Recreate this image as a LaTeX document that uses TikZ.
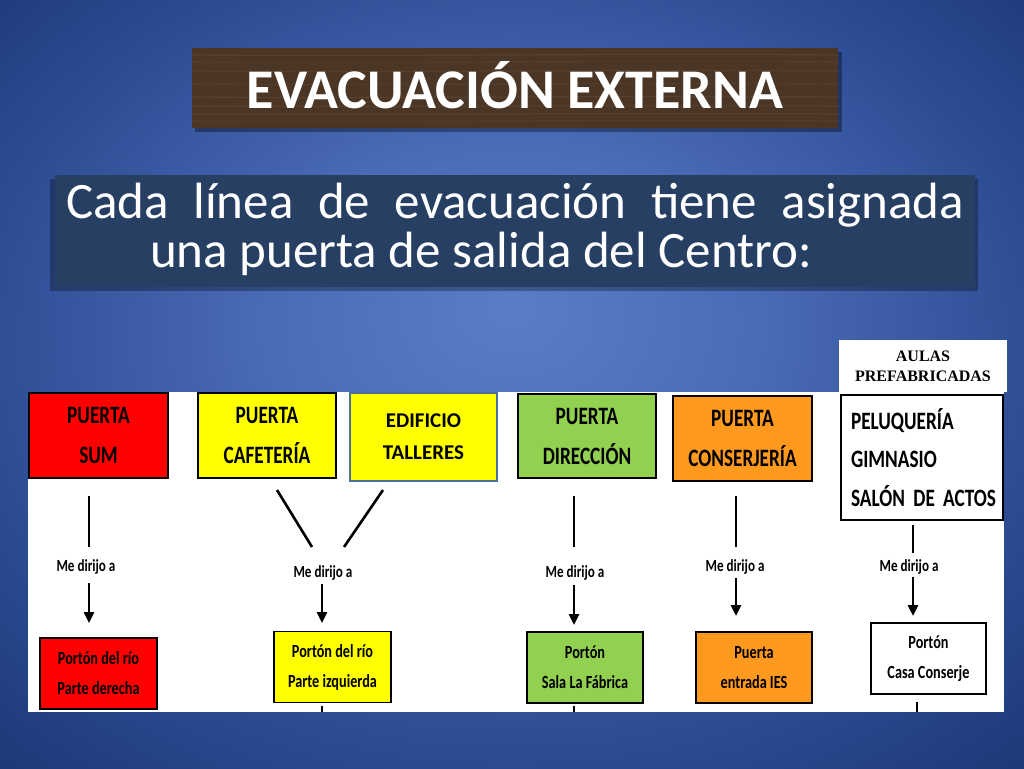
\documentclass[tikz,border=0pt]{standalone}
\usepackage{fontspec}
\setmainfont{Carlito}
\newfontfamily\cond[FakeStretch=0.77]{Carlito}
\newfontfamily\timesfam{Liberation Serif}
\usetikzlibrary{arrows.meta}
\definecolor{bgin}{HTML}{5B7DC8}
\definecolor{bgmid}{HTML}{4A6BB5}
\definecolor{bgmid2}{HTML}{2D4C94}
\definecolor{bgmid3}{HTML}{17326F}
\definecolor{bgout}{HTML}{0F2868}
\definecolor{wood}{HTML}{4B3626}
\definecolor{woodlt}{HTML}{6A5140}
\definecolor{subbox}{HTML}{263F63}
\definecolor{cred}{HTML}{FF0000}
\definecolor{cyel}{HTML}{FFFF00}
\definecolor{cgreen}{HTML}{92D050}
\definecolor{corange}{HTML}{FF9A1F}
\definecolor{steel}{HTML}{4A6F9E}
\pgfdeclareradialshading{bgshade}{\pgfpoint{0bp}{5bp}}{color(0bp)=(bgin); color(12bp)=(bgmid); color(26bp)=(bgmid2); color(40bp)=(bgmid3); color(50bp)=(bgout)}
\tikzset{
  srcbox/.style={draw=black, line width=1.4pt, minimum width=#1, inner sep=0pt, align=center,
    font=\cond\bfseries\fontsize{25}{40}\selectfont},
  dstbox/.style={draw=black, line width=1.4pt, minimum width=#1, minimum height=71pt, inner sep=0pt, align=center,
    font=\cond\bfseries\fontsize{18.5}{30}\selectfont},
  lbl/.style={inner sep=0pt, font=\cond\bfseries\fontsize{17}{19}\selectfont},
  conn/.style={line width=2.6pt, black},
  arr/.style={line width=2.6pt, black, -{Triangle[width=10pt,length=11pt]}},
}
\begin{document}
\begin{tikzpicture}[x=1pt,y=-1pt]
\useasboundingbox (0,0) rectangle (1024,768);
% background
\shade[shading=bgshade] (0,0) rectangle (1024,768);
% title plate
\fill[black, opacity=0.35] (195,52) rectangle (842,132);
\fill[wood] (192,48) rectangle (838,128);
\foreach \yy/\op in {55/0.4,62/0.25,71/0.3,84/0.25,97/0.4,106/0.3,114/0.35,121/0.25}{
  \draw[woodlt, line width=1.2pt, opacity=\op] (192,\yy) .. controls (400,\yy+2) and (600,\yy-2) .. (838,\yy);
}
\node[text=white, font=\bfseries\fontsize{56}{60}\selectfont, inner sep=0pt] (title) at (515,85) {EVACUACIÓN EXTERNA};
% subtitle box
\fill[black, opacity=0.3] (50,179) rectangle (978,291);
\fill[subbox] (55,175) rectangle (975,287);
\node[anchor=base west, inner sep=0pt, text=white, font=\fontsize{51}{55}\selectfont] (sub1) at (66,218)
  {\makebox[898pt][s]{Cada\hfill línea\hfill de\hfill evacuación\hfill tiene\hfill asignada}};
\node[anchor=base west, inner sep=0pt, text=white, font=\fontsize{51}{55}\selectfont] (sub2) at (150,267)
  {una puerta de salida del Centro:};
% white panel
\fill[white] (28,392) rectangle (1004,712);
\node[fill=white, minimum width=168pt, minimum height=52pt, inner sep=0pt, align=center,
  font=\timesfam\bfseries\fontsize{16}{20}\selectfont] (aulas) at (923,366) {AULAS\\PREFABRICADAS};
% source boxes
\node[srcbox=139pt, minimum height=85pt, fill=cred] (sum) at (98.5,435.5) {PUERTA\\SUM};
\node[srcbox=138pt, minimum height=85pt, fill=cyel] (caf) at (267,435.5) {PUERTA\\CAFETERÍA};
\node[draw=steel, line width=2.2pt, fill=cyel, minimum width=147pt, minimum height=88pt, inner sep=0pt, align=center,
  font=\bfseries\fontsize{21}{32}\selectfont] (tal) at (423.5,437) {EDIFICIO\\TALLERES};
\node[srcbox=138pt, minimum height=84pt, fill=cgreen] (dir) at (587,436) {PUERTA\\DIRECCIÓN};
\node[srcbox=139pt, minimum height=85pt, fill=corange] (con) at (742.5,438.5) {PUERTA\\CONSERJERÍA};
\node[draw=black, line width=1.4pt, fill=white, minimum width=162pt, minimum height=125pt, inner xsep=10pt, inner ysep=0pt,
  text width=142pt, align=left, font=\cond\bfseries\fontsize{25}{38.5}\selectfont] (pel) at (922,457.5)
  {\mbox{PELUQUERÍA}\\\mbox{GIMNASIO}\\\mbox{SALÓN DE ACTOS}};
% labels
\node[lbl] (m1) at (86,567) {Me dirijo a};
\node[lbl] (m2) at (323,573) {Me dirijo a};
\node[lbl] (m3) at (575,573) {Me dirijo a};
\node[lbl] (m4) at (735,567) {Me dirijo a};
\node[lbl] (m5) at (909,567) {Me dirijo a};
% destination boxes
\node[dstbox=117pt, fill=cred] (d1) at (98.5,673.5) {Portón del río\\Parte derecha};
\node[dstbox=117pt, fill=cyel] (d2) at (332.5,667) {Portón del río\\Parte izquierda};
\node[dstbox=116pt, fill=cgreen] (d3) at (585,667.5) {Portón\\Sala La Fábrica};
\node[dstbox=116pt, fill=corange] (d4) at (754,667.5) {Puerta\\entrada IES};
\node[dstbox=115pt, fill=white] (d5) at (928.5,658.5) {Portón\\Casa Conserje};
% connector end points
\coordinate (l1a) at (89,496); \coordinate (l1b) at (89,547);
\coordinate (a1a) at (89,583); \coordinate (a1b) at (89,623);
\coordinate (l2a) at (277,490); \coordinate (l2b) at (312,547);
\coordinate (l2c) at (383,490); \coordinate (l2d) at (344,547);
\coordinate (a2a) at (322,584); \coordinate (a2b) at (322,623);
\coordinate (l3a) at (574,496); \coordinate (l3b) at (574,547);
\coordinate (a3a) at (574,585); \coordinate (a3b) at (574,625);
\coordinate (l4a) at (736,496); \coordinate (l4b) at (736,547);
\coordinate (a4a) at (736,578); \coordinate (a4b) at (736,616);
\coordinate (l5a) at (913,525); \coordinate (l5b) at (913,553);
\coordinate (a5a) at (913,577); \coordinate (a5b) at (913,616);
\coordinate (s2a) at (322,706); \coordinate (s2b) at (322,712);
\coordinate (s3a) at (574,706); \coordinate (s3b) at (574,712);
\coordinate (s5a) at (917,702); \coordinate (s5b) at (917,712);
% connectors
\draw[conn] (l1a) -- (l1b);
\draw[arr] (a1a) -- (a1b);
\draw[conn] (l2a) -- (l2b);
\draw[conn] (l2c) -- (l2d);
\draw[arr] (a2a) -- (a2b);
\draw[conn] (l3a) -- (l3b);
\draw[arr] (a3a) -- (a3b);
\draw[conn] (l4a) -- (l4b);
\draw[arr] (a4a) -- (a4b);
\draw[conn] (l5a) -- (l5b);
\draw[arr] (a5a) -- (a5b);
\draw[conn] (s2a) -- (s2b);
\draw[conn] (s3a) -- (s3b);
\draw[conn] (s5a) -- (s5b);
\end{tikzpicture}
\end{document}
